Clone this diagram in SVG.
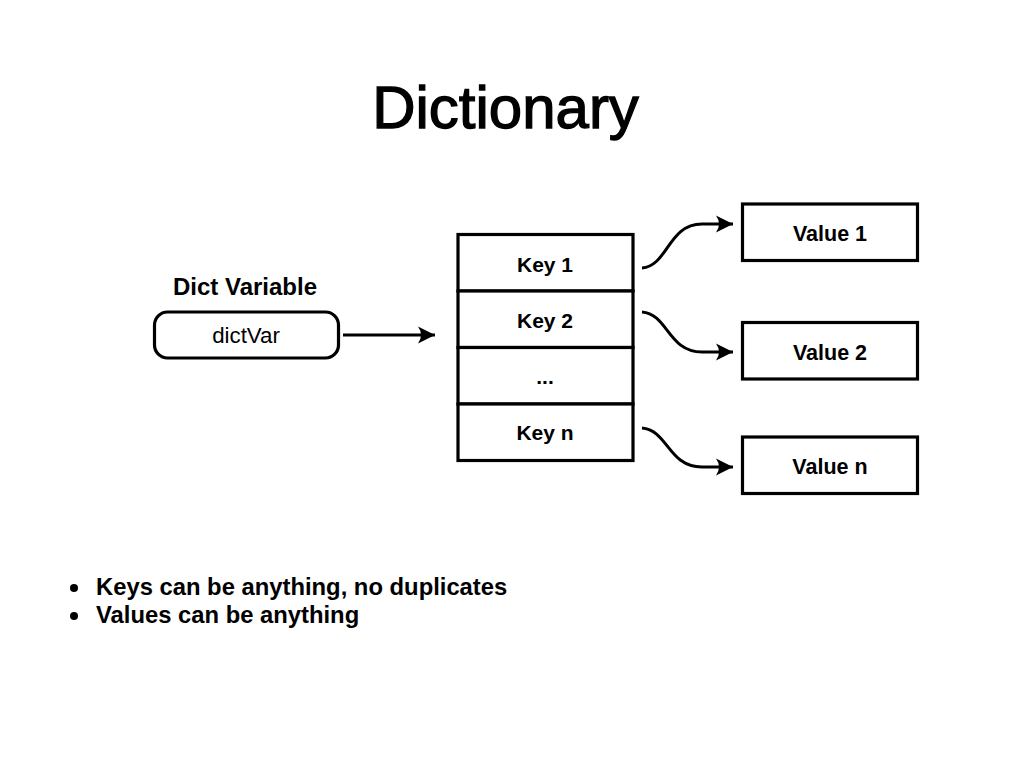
<svg xmlns="http://www.w3.org/2000/svg" width="1024" height="768" viewBox="0 0 1024 768">
<defs>
<style>
.box{fill:#fff;stroke:#000;stroke-width:3.2}
.lbl{font-family:"Liberation Sans",Arial,sans-serif;font-weight:bold;font-size:21px;fill:#000;text-anchor:middle}
.val{font-size:21.5px}
.conn{fill:none;stroke:#000;stroke-width:3;marker-end:url(#ah)}
.bul{font-family:"Liberation Sans",Arial,sans-serif;font-weight:bold;font-size:23.8px;fill:#000}
</style>
<marker id="ah" markerUnits="userSpaceOnUse" viewBox="-18 -10 19 20" refX="0" refY="0" markerWidth="19" markerHeight="20" orient="auto">
<path d="M0,0 L-17,-8.5 Q-11,0 -17,8.5 Z" fill="#000"/>
</marker>
</defs>
<rect width="1024" height="768" fill="#fff"/>
<text x="505.5" y="128" font-family="'Liberation Sans',Arial,sans-serif" font-size="60" text-anchor="middle" fill="#000" stroke="#000" stroke-width="1.3">Dictionary</text>

<g id="dictVarNode">
<text class="lbl" x="245" y="295" style="font-size:24px">Dict Variable</text>
<rect class="box" x="154.5" y="312" width="184" height="46" rx="13" ry="13"/>
<text x="246" y="343" font-family="'Liberation Sans',Arial,sans-serif" font-size="22.3" text-anchor="middle" fill="#000">dictVar</text>
</g>

<g id="keys">
<g id="key1"><rect class="box" x="458" y="234.5" width="175" height="56.5"/><text class="lbl" x="545" y="272">Key 1</text></g>
<g id="key2"><rect class="box" x="458" y="291" width="175" height="56.5"/><text class="lbl" x="545" y="328">Key 2</text></g>
<g id="keyDots"><rect class="box" x="458" y="347.5" width="175" height="56.5"/><text class="lbl" x="545" y="384">...</text></g>
<g id="keyN"><rect class="box" x="458" y="404" width="175" height="56.5"/><text class="lbl" x="545" y="440">Key n</text></g>
</g>

<g id="value1"><rect class="box" x="742.5" y="204" width="175" height="56.5"/><text class="lbl val" x="830" y="241">Value 1</text></g>
<g id="value2"><rect class="box" x="742.5" y="322.5" width="175" height="56.5"/><text class="lbl val" x="830" y="360">Value 2</text></g>
<g id="valueN"><rect class="box" x="742.5" y="437" width="175" height="56.5"/><text class="lbl val" x="830" y="474">Value n</text></g>

<g id="connectors">
<path class="conn" d="M343,335 L435,335"/>
<path class="conn" d="M642,268 C668,266 668,224 702,224 L733,224"/>
<path class="conn" d="M642,312 C668,314 668,352 702,352 L733,352"/>
<path class="conn" d="M642,428 C668,430 668,467 702,467 L733,467"/>
</g>

<g id="bullets">
<circle cx="74" cy="588" r="4" fill="#000"/>
<text class="bul" x="96" y="595">Keys can be anything, no duplicates</text>
<circle cx="74" cy="616" r="4" fill="#000"/>
<text class="bul" x="96" y="623">Values can be anything</text>
</g>
</svg>
